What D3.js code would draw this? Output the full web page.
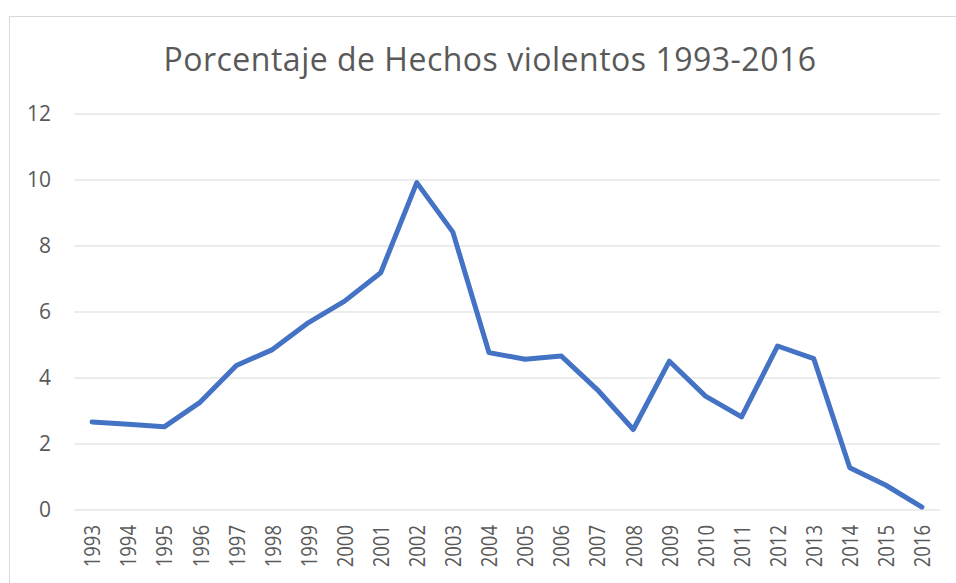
<!DOCTYPE html>
<html>
<head>
  <script src="https://d3js.org/d3.v7.min.js"></script>
  <style>
    body { margin: 0; background: #fff; }
    text { font-family: "Open Sans", "Noto Sans", sans-serif; fill: #595959; }
  </style>
</head>
<body>
  <svg id="chart"></svg>
  <script>
    // data
    const years = ["1993","1994","1995","1996","1997","1998","1999","2000","2001","2002","2003","2004",
                   "2005","2006","2007","2008","2009","2010","2011","2012","2013","2014","2015","2016"];
    const values = [2.67, 2.6, 2.52, 3.27, 4.38, 4.86, 5.68, 6.33, 7.19, 9.92, 8.42, 4.77,
                    4.57, 4.67, 3.65, 2.44, 4.51, 3.45, 2.82, 4.97, 4.59, 1.28, 0.75, 0.09];
    const yTicks = [0, 2, 4, 6, 8, 10, 12];
    const title = "Porcentaje de Hechos violentos 1993-2016";

    const W = 956, H = 583;
    const margin = {left: 74, right: 940, top: 114, bottom: 510};

    const svg = d3.select("#chart").attr("width", W).attr("height", H);

    // chart frame
    svg.append("rect")
      .attr("x", 9.5).attr("y", 16.5)
      .attr("width", W).attr("height", H)
      .attr("fill", "none").attr("stroke", "#d9d9d9");

    svg.append("text")
      .attr("x", 490).attr("y", 71)
      .attr("text-anchor", "middle")
      .attr("font-size", "32px")
      .attr("letter-spacing", "0.5px")
      .text(title);

    const x = d3.scalePoint().domain(years).range([margin.left, margin.right]).padding(0.5);
    const y = d3.scaleLinear().domain([0, 12]).range([margin.bottom, margin.top]);

    // gridlines
    svg.append("g")
      .selectAll("line")
      .data(yTicks)
      .join("line")
        .attr("x1", margin.left).attr("x2", margin.right)
        .attr("y1", d => y(d)).attr("y2", d => y(d))
        .attr("stroke", "#d9d9d9").attr("stroke-width", 1);

    // y axis labels
    const yAxis = svg.append("g")
      .attr("transform", `translate(${margin.left - 23},0)`)
      .call(d3.axisLeft(y).tickValues(yTicks).tickSize(0).tickPadding(0));
    yAxis.select(".domain").remove();
    yAxis.selectAll("text").attr("font-size", "21px").attr("fill", "#595959")
      .attr("font-family", "Open Sans, sans-serif");

    // x axis labels
    const xAxis = svg.append("g")
      .attr("transform", `translate(0,${margin.bottom})`)
      .call(d3.axisBottom(x).tickSize(0));
    xAxis.select(".domain").remove();
    xAxis.selectAll("text")
      .attr("font-size", "18.5px")
      .attr("fill", "#595959")
      .attr("font-family", "Open Sans, sans-serif")
      .attr("transform", "rotate(-90) scale(1,1.2)")
      .attr("text-anchor", "end")
      .attr("dy", "0.35em")
      .attr("x", -15).attr("y", 0);

    // line
    const line = d3.line()
      .x((d, i) => x(years[i]))
      .y(d => y(d));

    svg.append("path")
      .datum(values)
      .attr("d", line)
      .attr("fill", "none")
      .attr("stroke", "#4472c4")
      .attr("stroke-width", 5)
      .attr("stroke-linejoin", "round")
      .attr("stroke-linecap", "round");
  </script>
</body>
</html>
